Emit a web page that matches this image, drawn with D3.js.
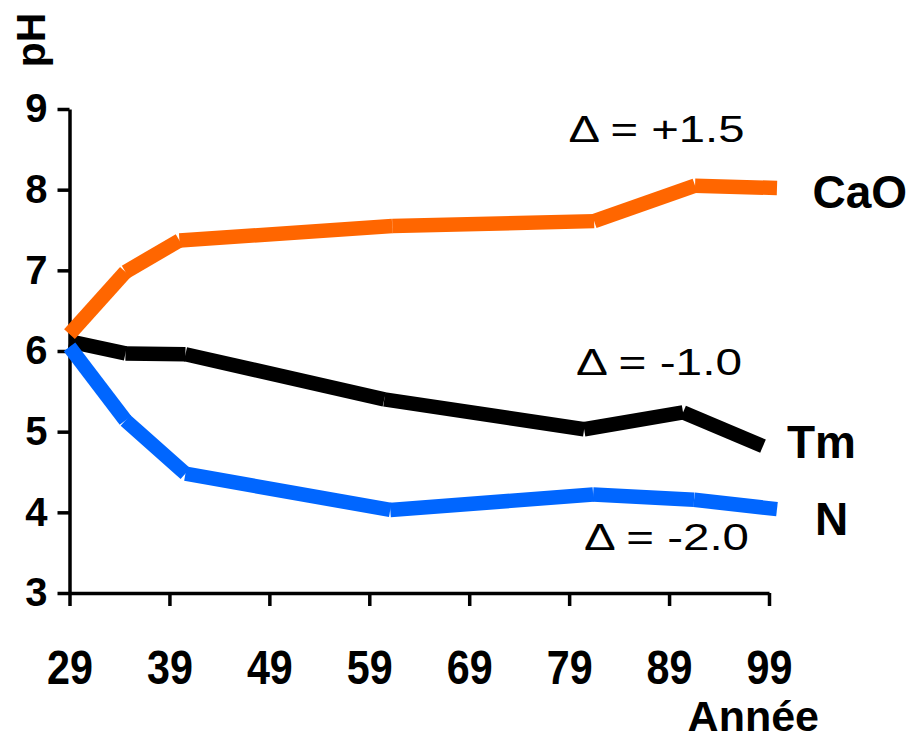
<!DOCTYPE html>
<html>
<head>
<meta charset="utf-8">
<script src="https://cdn.jsdelivr.net/npm/d3@7"></script>
<style>
  html, body { margin: 0; padding: 0; background: #fff; }
  svg { display: block; }
</style>
</head>
<body>
<svg id="chart" width="913" height="735"></svg>
<script>
// Soil pH over time for three fertiliser treatments
const xTicks = [29, 39, 49, 59, 69, 79, 89, 99];
const yTicks = [3, 4, 5, 6, 7, 8, 9];

const caoYears = [29, 34.6, 40.0, 61.3, 81.5, 91.6, 99.8];
const caoPH    = [6.21, 6.98, 7.37, 7.55, 7.61, 8.05, 8.02];

const tmYears  = [29, 34.6, 40.6, 60.5, 80.5, 90.4, 98.4];
const tmPH     = [6.12, 5.97, 5.96, 5.40, 5.03, 5.24, 4.82];

const nYears   = [29, 34.6, 40.6, 61.1, 81.4, 91.5, 99.8];
const nPH      = [6.05, 5.14, 4.48, 4.03, 4.22, 4.155, 4.04];

const seriesNames  = ["Tm", "N", "CaO"];
const seriesColors = ["#000000", "#0066ff", "#ff6600"];
const deltaLabels  = ["\u0394 = -1.0", "\u0394 = -2.0", "\u0394 = +1.5"];

const series = [
  { name: seriesNames[0], color: seriesColors[0], years: tmYears,  ph: tmPH,  delta: deltaLabels[0] },
  { name: seriesNames[1], color: seriesColors[1], years: nYears,   ph: nPH,   delta: deltaLabels[1] },
  { name: seriesNames[2], color: seriesColors[2], years: caoYears, ph: caoPH, delta: deltaLabels[2] }
];

const svg = d3.select("#chart");
const x = d3.scaleLinear().domain([29, 99]).range([69.5, 769]);
const y = d3.scaleLinear().domain([3, 9]).range([593, 109]);

const boldFont = "'Liberation Sans', Arial, sans-serif";

// Axes
const yAxis = svg.append("g")
  .attr("transform", `translate(${x(29)},0)`)
  .call(d3.axisLeft(y).tickValues(yTicks).tickFormat(d3.format("d"))
        .tickSize(12).tickSizeOuter(0).tickPadding(10));
const xAxis = svg.append("g")
  .attr("transform", `translate(0,${y(3)})`)
  .call(d3.axisBottom(x).tickValues(xTicks).tickFormat(d3.format("d"))
        .tickSize(13).tickSizeOuter(0).tickPadding(44));

[yAxis, xAxis].forEach(g => {
  g.select(".domain").attr("stroke", "#000").attr("stroke-width", 3.5);
  g.selectAll(".tick line").attr("stroke", "#000").attr("stroke-width", 3.5);
  g.selectAll(".tick text")
    .attr("fill", "#000")
    .style("font-family", boldFont)
    .style("font-weight", "bold");
});
yAxis.selectAll(".tick text").style("font-size", "40px");
// year labels are set in a tall, narrow face
xAxis.selectAll(".tick text")
  .style("font-size", "48px")
  .attr("transform", "scale(0.86,1)");

// Axis titles
svg.append("text")
  .attr("transform", "translate(45,40) rotate(-90)")
  .attr("text-anchor", "middle")
  .style("font-family", boldFont).style("font-weight", "bold").style("font-size", "41px")
  .text("pH");
svg.append("text")
  .attr("x", 819).attr("y", 731)
  .attr("text-anchor", "end")
  .style("font-family", boldFont).style("font-weight", "bold").style("font-size", "43px")
  .text("Ann\u00e9e");

// Lines: each segment drawn on its own with butt ends
const lines = svg.append("g");
series.forEach(s => {
  const pts = s.years.map((yr, i) => [x(yr), y(s.ph[i])]);
  lines.append("g").selectAll("line")
    .data(d3.pairs(pts))
    .join("line")
    .attr("x1", d => d[0][0]).attr("y1", d => d[0][1])
    .attr("x2", d => d[1][0]).attr("y2", d => d[1][1])
    .attr("stroke", s.color)
    .attr("stroke-width", 14.5)
    .attr("stroke-linecap", "butt");
});

// Series names
const namePos = { "CaO": [812.5, 208], "Tm": [787, 458], "N": [815, 535] };
series.forEach(s => {
  svg.append("text")
    .attr("x", namePos[s.name][0]).attr("y", namePos[s.name][1])
    .style("font-family", boldFont).style("font-weight", "bold").style("font-size", "46px")
    .text(s.name);
});

// Change-in-pH annotations
const deltaPos = { "CaO": [568.5, 141.5, 176], "Tm": [576, 375, 166], "N": [584, 550, 165] };
series.forEach(s => {
  const p = deltaPos[s.name];
  svg.append("text")
    .attr("x", p[0]).attr("y", p[1])
    .attr("textLength", p[2]).attr("lengthAdjust", "spacingAndGlyphs")
    .style("font-family", boldFont).style("font-size", "37px")
    .text(s.delta);
});
</script>
</body>
</html>
